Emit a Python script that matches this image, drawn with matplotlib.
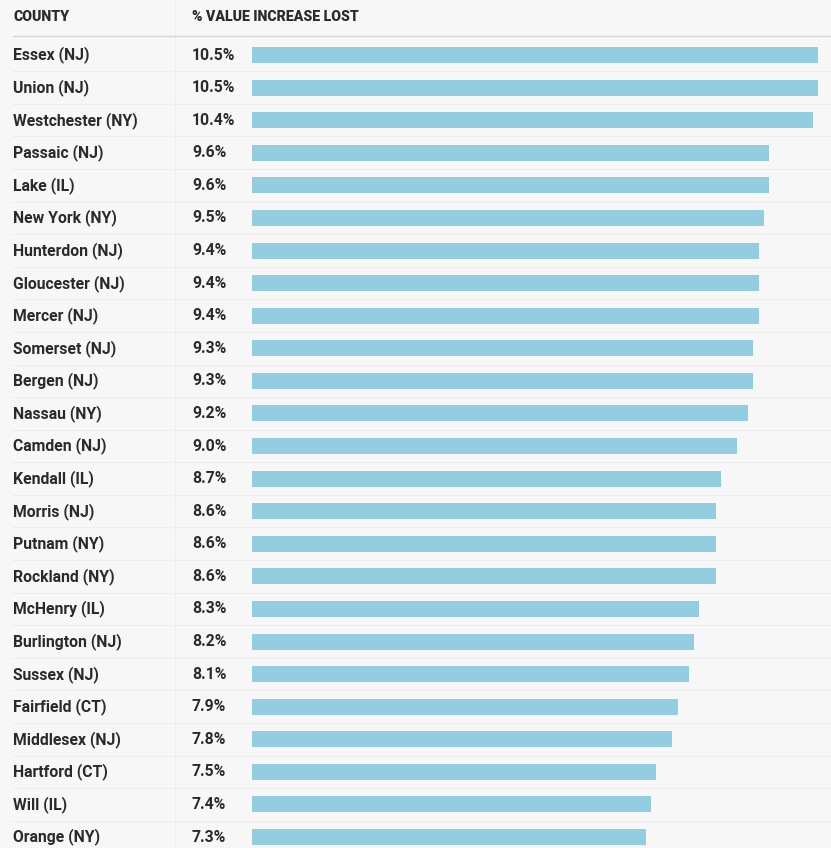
import matplotlib
matplotlib.use("Agg")
import matplotlib.pyplot as plt
import matplotlib.transforms as mtransforms

counties = ["Essex (NJ)", "Union (NJ)", "Westchester (NY)", "Passaic (NJ)", "Lake (IL)",
            "New York (NY)", "Hunterdon (NJ)", "Gloucester (NJ)", "Mercer (NJ)", "Somerset (NJ)",
            "Bergen (NJ)", "Nassau (NY)", "Camden (NJ)", "Kendall (IL)", "Morris (NJ)",
            "Putnam (NY)", "Rockland (NY)", "McHenry (IL)", "Burlington (NJ)", "Sussex (NJ)",
            "Fairfield (CT)", "Middlesex (NJ)", "Hartford (CT)", "Will (IL)", "Orange (NY)"]
values = [10.5, 10.5, 10.4, 9.6, 9.6, 9.5, 9.4, 9.4, 9.4, 9.3, 9.3, 9.2, 9.0, 8.7, 8.6,
          8.6, 8.6, 8.3, 8.2, 8.1, 7.9, 7.8, 7.5, 7.4, 7.3]
header_county = "COUNTY"
header_value = "% VALUE INCREASE LOST"

W, H = 831, 848
BG = "#f7f7f7"
BAR = "#92cde2"
TXT = "#2a2a2a"

fig = plt.figure(figsize=(W / 100, H / 100), dpi=100, facecolor=BG)
ax = fig.add_axes([0, 0, 1, 1])
ax.set_facecolor(BG)

px_per_unit = (818 - 252) / 10.5
row0, row_step = 55.0, (837 - 55) / 24
ax.set_xlim(-252 / px_per_unit, (W - 252) / px_per_unit)
ax.set_ylim((H - row0) / row_step, -row0 / row_step)
ax.axis("off")

n = len(counties)
idx = list(range(n))
ax.barh(idx, values, height=16 / row_step, color=BAR, edgecolor="none", zorder=3)

tr = mtransforms.blended_transform_factory(ax.transAxes, ax.transData)
font = ["Roboto", "DejaVu Sans"]
for i, (c, v) in enumerate(zip(counties, values)):
    ax.text(13 / W, i, c, transform=tr, ha="left", va="center", fontsize=11.3,
            fontweight="bold", family=font, color=TXT)
    ax.text(192 / W, i, f"{v:.1f}%", transform=tr, ha="left", va="center", fontsize=11.3,
            fontweight="bold", family=font, color=TXT)
    if i < n - 1:
        ax.plot([13 / W, 1], [i + 0.5, i + 0.5], transform=tr, color="#eeeeee", lw=0.8, zorder=1)

# header
hy = -(row0 - 17) / row_step
ax.text(13 / W, hy, header_county, transform=tr, ha="left", va="center", fontsize=10.2,
        fontweight="heavy", family=font, color=TXT)
ax.text(192 / W, hy, header_value, transform=tr, ha="left", va="center", fontsize=10.2,
        fontweight="heavy", family=font, color=TXT)
ly = -(row0 - 36) / row_step
ax.plot([13 / W, 1], [ly, ly], transform=tr, color="#d6d6d6", lw=1.0, zorder=2)
# faint column divider
ax.plot([175 / W, 175 / W], [0, 1], transform=ax.transAxes, color="#efefef", lw=0.8, zorder=1)

fig.savefig("out.png", dpi=100, facecolor=BG)
